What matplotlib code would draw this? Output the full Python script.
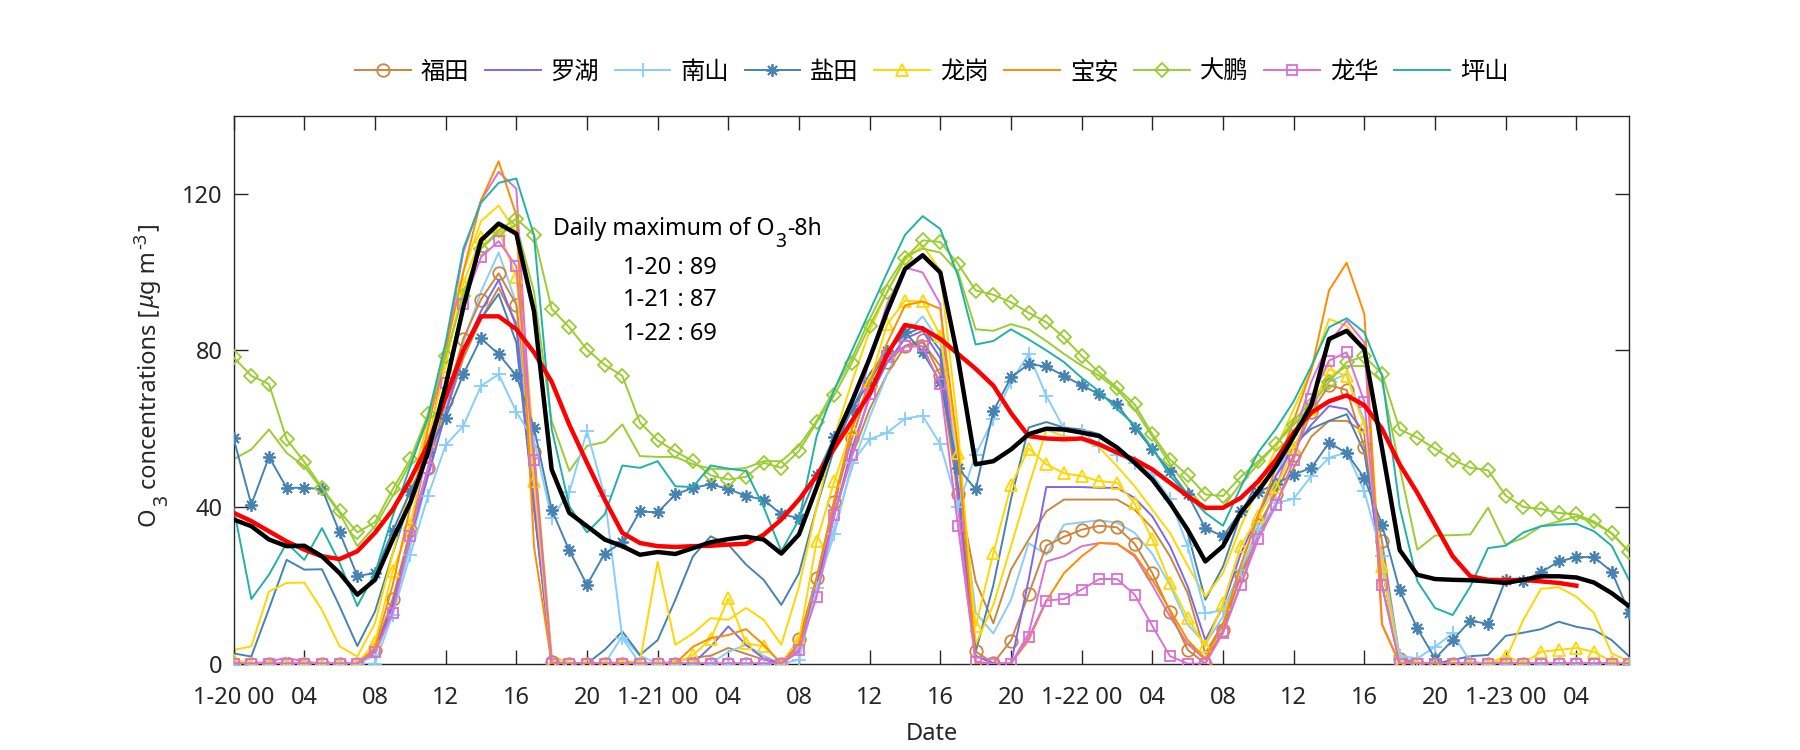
import numpy as np
import matplotlib
matplotlib.use("Agg")
import matplotlib.pyplot as plt
from matplotlib.transforms import IdentityTransform

plt.rcParams['font.family'] = ['Noto Sans', 'Noto Sans CJK SC', 'DejaVu Sans']

hours = np.arange(80)

stations = ['福田', '罗湖', '南山', '盐田', '龙岗', '宝安', '大鹏', '龙华', '坪山']
colors = ['#CD853F', '#7B68EE', '#87CEFA', '#4682B4', '#FFD700', '#FF8C00', '#9ACD32', '#DA70D6', '#20B2AA']
markers = ['o', None, '+', (8, 2, 0), '^', None, 'D', 's', None]

# ---- series with markers (set A) ----
futian_a = [0, 0, 0, 0, 0, 0, 0, 0, 3.5, 16.5,
            34, 50, 67, 83, 93, 99.7, 91.7, 54, 0.5, 0,
            0, 0, 0, 0, 0, 0, 0, 0, 0, 0,
            0, 0, 6.2, 21.9, 41.3, 57.5, 71.1, 77.1, 81.2, 82.7,
            73.6, 43.2, 3.1, 0.1, 5.9, 17.7, 30.1, 32.4, 34.2, 35.2,
            34.8, 30.6, 23.1, 13.3, 3.5, 0, 8.6, 22.7, 35.3, 43.4,
            53.2, 64.3, 71.1, 69.9, 55.2, 31.2, 1.3, 0, 0, 0,
            0, 0, 0, 0, 0, 0, 0, 0, 0, 0]
luohu_a = [0, 0, 0, 0, 0, 0, 0, 0, 3, 15,
           32, 48, 64, 80, 90, 98, 86, 40, 0, 0,
           0, 0, 0, 0, 0, 0, 0, 4.3, 9.5, 4.8,
           1.3, 0, 5, 20, 38, 55, 68, 77, 83, 85,
           78, 45, 2, 0, 0, 21.4, 45.1, 45.1, 45.1, 44.9,
           44.9, 42.3, 37.6, 30, 19.7, 6, 14.6, 28, 38, 48,
           55, 61, 65.8, 65, 59, 20, 0, 0, 0, 0,
           0, 0, 0, 0, 0, 0, 0, 0, 0, 0]
nanshan_a = [0, 0, 0, 0, 0, 0, 0, 0, 0, 12.5,
             27.8, 42.8, 55.8, 60.7, 70.9, 73.9, 64.3, 57, 37.2, 43.8,
             59.4, 42.8, 6.5, 0, 0, 0, 0, 0, 0, 0,
             0, 0, 1, 19.3, 33, 51.3, 57.3, 59, 62.6, 63.3,
             56, 40, 53.4, 62.4, 72, 79.1, 68.4, 60, 59.4, 55.6,
             53.4, 51.3, 48.3, 42, 30, 12.9, 13.6, 24, 34, 41,
             42.1, 47.9, 52.6, 53.9, 44, 27.4, 2, 1.3, 4.3, 7.7,
             0.5, 0, 0, 0, 0, 0, 0, 0, 0, 0]
yantian_a = [57.5, 40.6, 52.8, 44.9, 44.9, 44.6, 33.5, 22.4, 23.1, 33.8,
             44.0, 54.0, 62.8, 73.9, 83.1, 79.0, 73.6, 60.3, 39.3, 28.9,
             20.1, 28.1, 31.0, 38.9, 38.6, 43.2, 44.9, 45.8, 44.6, 42.8,
             41.9, 38.1, 37.2, 48.1, 57.9, 65.0, 72.0, 79.9, 84.7, 79.5,
             72.0, 50.0, 44.5, 64.5, 73.1, 76.5, 75.9, 73.5, 71.1, 68.8,
             66.2, 60.3, 54.7, 49.2, 43.2, 34.6, 32.5, 38.9, 43.8, 46.0,
             48.3, 50.0, 56.4, 53.8, 47.4, 35.5, 18.7, 9.0, 1.3, 6.0,
             11.0, 10.1, 21.4, 21.2, 23.3, 26.1, 27.2, 27.2, 23.5, 13.0]
longgang_a = [1, 0, 0, 0, 0, 0, 0, 0, 5.4, 23.6,
              35.5, 56.9, 76.1, 97, 109, 110.7, 98.7, 46.6, 0, 0,
              0, 0, 0, 0, 0, 0, 2.2, 6.2, 16.7, 5.2,
              4.4, 0, 6, 31.2, 46.6, 60, 72, 86.7, 92.7, 92.5,
              83.8, 53.9, 9.5, 28.2, 45.5, 54.9, 50.9, 48.6, 47.9, 46.6,
              46.2, 40.9, 31.7, 20.7, 11.6, 4.4, 15.4, 30.1, 37.6, 45,
              55, 65, 75.2, 73.5, 60.7, 25, 0, 0, 0, 0,
              0, 0, 2, 0, 3, 3.5, 4, 3, 0.5, 0]
baoan_a = [0, 0, 0, 0, 0, 0, 0, 0, 4, 20,
           40, 60, 80, 100, 118.3, 128.3, 114.5, 30, 0, 0,
           0, 0, 0, 0, 0, 0, 4.3, 6.5, 7.3, 8.8,
           4.8, 0, 5, 22, 42, 60, 72, 82, 91.5, 92.5,
           90.6, 55, 0, 0, 0, 6, 16, 23.1, 27.4, 30.8,
           30.6, 27.8, 21.4, 13.7, 6, 1.3, 10, 25, 38, 50,
           62, 75, 95.3, 102.4, 89.3, 10, 0, 0, 0, 0,
           0, 0, 0, 0, 0, 0, 0, 0, 0, 0]
dapeng_a = [78.2, 73.5, 71.4, 57.3, 51.5, 44.9, 38.9, 33.5, 36.1, 44.5,
            52.2, 63.7, 78.6, 94, 106, 110.7, 113.6, 109.6, 90.6, 85.9,
            80.2, 76.3, 73.5, 61.6, 57, 54.2, 51.7, 48.1, 47.0, 47.7,
            51.3, 50.0, 54.3, 61.6, 68.6, 76.9, 86.3, 95.0, 103.5, 108.1,
            107.7, 102.1, 95.3, 94.2, 92.3, 89.6, 87.2, 83.3, 78.6, 74.3,
            70.5, 66.2, 58.6, 52.1, 48.1, 43.2, 42.8, 47.7, 51.7, 56,
            61, 66, 72, 77, 78.5, 74, 59.8, 57.7, 54.9, 52.1,
            50.0, 49.4, 42.9, 40.0, 39.5, 38.5, 38.1, 36.3, 33.3, 28.4]
longhua_a = [0, 0, 0, 0, 0, 0, 0, 0, 3, 13,
             32.5, 50, 71.8, 91.9, 103.8, 107.9, 101.5, 52.1, 0, 0,
             0, 0, 0, 0, 0, 0, 0, 0, 0, 0,
             0, 0, 3.5, 17, 38, 53.4, 68.8, 78.2, 81, 81,
             71.4, 35.1, 0.5, 0, 0, 6.7, 16.1, 16.5, 18.9, 21.6,
             21.6, 17.6, 9.6, 1.9, 0, 0, 7.8, 20, 31.8, 40.4,
             52, 67.7, 77.4, 79.5, 66.9, 20, 0, 0, 0, 0,
             0, 0, 0, 0, 0, 0, 0, 0, 0, 0]
pingshan_a = [39.8, 16.5, 22.7, 30.8, 26.5, 34.6, 25.7, 14.7, 23.1, 37.6,
              50.4, 63, 82, 106, 117.7, 122.8, 123.9, 109.4, 60, 40.2,
              33.5, 38.1, 50.6, 50, 51.7, 45.3, 45.1, 50.6, 49.8, 49.2,
              40, 28.7, 36.8, 58.1, 70, 80, 90, 100, 109.5, 114.3,
              111, 99, 81.5, 82.4, 85.4, 82.8, 80, 77, 73, 69.5,
              65, 61, 55, 48, 43, 38.5, 35.2, 45, 54, 60,
              67, 76, 85.9, 88.2, 84.6, 73.5, 40, 21.0, 14.2, 12.4,
              19.7, 29.5, 30.1, 33.5, 35.1, 35.5, 35.7, 33.8, 30.1, 21.2]

# ---- plain lines (set B) ----
futian_b = [0, 0, 0, 0, 0, 0, 0, 0, 3, 15,
            32, 48, 64, 78, 88, 96, 87, 50, 0, 0,
            0, 0, 0, 0, 0, 0.5, 1.5, 2, 4, 2.5,
            1, 0, 5, 20, 38, 53, 65, 74, 81, 82,
            76, 45, 21, 10.3, 24, 31.7, 38.9, 41.9, 41.9, 41.9,
            41.9, 39.3, 34.6, 27.4, 18, 2.6, 10.3, 22, 33, 41,
            50, 58, 62, 62, 59, 25, 0, 0, 0, 0,
            0, 0, 0, 0, 0, 0, 0, 0, 0, 0]
nanshan_b = [0, 0, 0, 0, 0, 0, 0, 0, 2, 14,
             30, 48, 65, 82, 95, 105, 92, 45, 2, 0,
             0, 0, 7, 2, 0, 0, 0, 0, 3, 4.8,
             2, 0, 4, 18, 35, 50, 63, 74, 84, 88.7,
             82, 50, 13, 7.7, 16.3, 30.8, 27.8, 35.5, 36.1, 36.6,
             36, 33.4, 28, 20, 10, 5, 12, 25, 37, 48,
             58, 66, 72, 74, 62, 25, 2, 0, 0, 0,
             0, 0, 0, 0, 0, 0, 0, 0, 0, 0]
yantian_b = [2.6, 1.8, 14, 26.5, 24, 24.1, 14.6, 4.5, 13.3, 28,
             42, 56, 68, 80, 88, 94.4, 82, 40, 0, 0,
             0, 3.5, 8.2, 2.2, 6, 16.3, 27.4, 32.5, 30.4, 25.3,
             21.4, 15, 23.1, 40, 55, 65, 74, 80, 84, 86,
             80, 45, 3, 20, 42, 60.3, 61.7, 60.3, 59.8, 58.6,
             55.2, 51.7, 47.9, 41.9, 33.4, 16.3, 24.8, 38, 47, 52,
             56, 60, 62, 63.7, 53.9, 25, 0, 0, 0, 0.9,
             1.9, 2.2, 7.1, 7.9, 8.8, 10.7, 9.4, 8.6, 6.0, 1.8]
longgang_b = [3.5, 4.4, 18.4, 20.6, 20.7, 13.7, 4.4, 1.8, 10.3, 28,
              45, 62, 80, 100, 113, 117, 110, 55, 2, 0,
              0, 0, 0.5, 0.5, 26, 4.8, 7.7, 11.6, 11.2, 14.2,
              11.2, 4.8, 19.7, 40, 58, 72, 85, 95, 103, 106.8,
              100.4, 60, 5, 15, 30, 45.3, 59.7, 58.1, 57.3, 55.2,
              50.4, 45.3, 39.3, 33.4, 25, 17.1, 23.1, 35, 45, 55,
              65, 75, 88, 86.3, 80.3, 20, 0, 0, 0, 0,
              0, 0, 1, 11.2, 19.1, 19.5, 17.1, 12.9, 2.6, 0.5]
dapeng_b = [52.2, 54.7, 59.8, 53.8, 50.4, 44.5, 38.5, 30, 35.1, 42.8,
            51.3, 62.4, 78, 95, 106, 110, 112, 95, 62, 49.2,
            55.6, 56.6, 61.1, 53, 52.8, 52.8, 50.9, 49.8, 49.6, 50,
            51.7, 51.7, 55.6, 62, 70, 78, 88, 97, 104, 106,
            105, 100, 85.4, 85, 86.7, 85.4, 82.4, 79.1, 76.1, 73.5,
            70, 65, 58, 51, 45, 39.3, 40, 46, 51, 56,
            62, 67, 73, 76, 76, 72, 50, 29.1, 32.7, 32.8,
            33.0, 39.8, 30.4, 32.1, 35.1, 36.3, 37.6, 35.9, 33.3, 28.6]
longhua_b = [0, 0, 0.5, 1.5, 0.5, 0, 0, 0, 3, 15,
             34, 55, 80, 105, 118.3, 125.6, 121.3, 45, 0, 0,
             0, 0, 0, 0, 0, 0, 0, 0, 0, 0,
             0, 0, 3, 18, 40, 60, 78, 92, 101.2, 99.9,
             91.8, 40, 0, 0, 0, 7.7, 26.1, 27.4, 30, 30.8,
             30.6, 27.4, 20, 12, 5, 1, 8, 20, 33, 45,
             58, 72, 82, 87.6, 82, 10, 0, 0, 0, 0,
             0, 0, 0, 0, 0, 0, 0, 0, 0, 0]

# ---- thick summary lines ----
black_line = [36.8, 35.1, 31.7, 30.0, 30.1, 27.4, 23.1, 17.6, 21.4, 31.7,
              41.1, 54.0, 71.0, 91.0, 108.1, 112.4, 109.8, 90.0, 49.6, 38.5,
              35.1, 31.7, 30.0, 27.8, 28.5, 28.0, 29.5, 31.0, 31.8, 32.4,
              31.7, 28.1, 33.0, 45.0, 57.0, 67.0, 78.0, 90.0, 100.8, 104.3,
              99.9, 78.0, 50.9, 51.7, 54.7, 58.6, 60.0, 59.8, 59.0, 58.1,
              55.2, 51.3, 47.0, 41.0, 34.2, 26.1, 30.0, 38.5, 44.1, 50.4,
              58.0, 66.0, 82.9, 85.0, 80.3, 55.0, 29.0, 22.7, 21.6, 21.4,
              21.3, 21.0, 20.6, 21.4, 22.3, 22.3, 22.0, 20.7, 18.0, 14.6]
red_line = [38.5, 36.4, 33.8, 31.2, 29.1, 27.4, 26.7, 28.7, 33.4, 39.3,
            47.0, 56.0, 68.0, 80.0, 88.7, 88.7, 85.4, 79.5, 72.0, 61.0,
            51.3, 41.9, 33.4, 30.8, 30.0, 29.8, 30.0, 30.1, 30.4, 30.6,
            32.9, 36.8, 41.9, 48.0, 55.0, 62.0, 69.0, 79.0, 86.5, 85.6,
            82.9, 79.1, 75.3, 71.0, 64.0, 58.1, 57.5, 57.3, 57.5, 56.0,
            53.9, 52.1, 49.6, 46.2, 42.8, 39.8, 39.8, 42.3, 46.6, 52.1,
            59.0, 64.1, 67.0, 68.5, 66.0, 60.0, 50.9, 43.6, 35.5, 27.4,
            22.3, 21.4, 21.3, 21.4, 21.0, 20.6, 19.9, np.nan, np.nan, np.nan]

set_a = [futian_a, luohu_a, nanshan_a, yantian_a, longgang_a, baoan_a, dapeng_a, longhua_a, pingshan_a]
set_b = {0: futian_b, 2: nanshan_b, 3: yantian_b, 4: longgang_b, 6: dapeng_b, 7: longhua_b}

tick_pos = list(range(0, 80, 4))
tick_labels = ['1-20 00', '04', '08', '12', '16', '20',
               '1-21 00', '04', '08', '12', '16', '20',
               '1-22 00', '04', '08', '12', '16', '20',
               '1-23 00', '04']

annot_lines = ['1-20 : 89', '1-21 : 87', '1-22 : 69']

FS = 17
TXT = '#262626'

fig = plt.figure(figsize=(18, 7.5), dpi=100)
ax = fig.add_axes([0.1298, 0.1152, 0.7754, 0.7308])

lw = 1.4
for i, vals in set_b.items():
    ax.plot(hours, vals, color=colors[i], lw=lw, zorder=2)

handles = []
for i, vals in enumerate(set_a):
    m = markers[i]
    kw = dict(color=colors[i], lw=lw, zorder=3)
    if m is not None:
        ms = 9
        if m == 's':
            ms = 6.5
        elif m == 'D':
            ms = 7
        elif m == '+':
            ms = 10
        kw.update(marker=m, ms=ms, mfc='none', mec=colors[i], mew=1.3)
    h, = ax.plot(hours, vals, label=stations[i], **kw)
    handles.append(h)

ax.plot(hours, black_line, color='black', lw=3.2, zorder=5)
ax.plot(hours, red_line, color='#FF0000', lw=3.2, zorder=4)

ax.set_xlim(0, 79)
ax.set_ylim(0, 140)
ax.set_yticks([0, 40, 80, 120])
ax.set_xticks(tick_pos)
ax.set_xticklabels(tick_labels)
ax.tick_params(direction='in', length=10, width=1.0, top=True, right=True,
               labelsize=FS, colors=TXT)
ax.tick_params(axis='x', pad=16)
ax.tick_params(axis='y', pad=8)
for s in ax.spines.values():
    s.set_linewidth(1.0)
    s.set_color(TXT)

ax.set_xlabel('Date', fontsize=FS, color=TXT, labelpad=9)

fig.legend(handles=handles, loc='center', bbox_to_anchor=(0.5175, 0.903), ncol=9, frameon=False,
           fontsize=17.5, handlelength=2.3, handletextpad=0.4, columnspacing=0.65)

renderer = fig.canvas.get_renderer()


def rich_text(x, y, pieces, rotation=0, color='black', center=False):
    """Place text pieces one after another (pixel coordinates).
    pieces: (string, fontsize, shift_px, style, gap_px_after)"""
    objs = []
    pos = 0.0
    for s, fs, shift, style, gap in pieces:
        if rotation == 0:
            px, py = x + pos, y + shift
        else:
            px, py = x - shift, y + pos
        t = fig.text(px, py, s, transform=IdentityTransform(), fontsize=fs, fontstyle=style,
                     ha='left', va='baseline', rotation=rotation, rotation_mode='anchor', color=color)
        bb = t.get_window_extent(renderer)
        pos += (bb.width if rotation == 0 else bb.height) + gap
        objs.append(t)
    if center:
        for t in objs:
            px, py = t.get_position()
            if rotation == 0:
                t.set_position((px - pos / 2, py))
            else:
                t.set_position((px, py - pos / 2))
    return objs


# annotation (data anchored)
tx, ty = ax.transData.transform((18.08, 109.5))
rich_text(tx, ty, [('Daily maximum of O', 16.6, 0, 'normal', 1),
                   ('3', 14, -12, 'normal', 1),
                   ('-8h', 16.6, 0, 'normal', 0)])
for k, t in enumerate(annot_lines):
    ax.text(22.02, [99.5, 91.3, 82.7][k], t, fontsize=FS, ha='left', va='baseline', color='black')

# y label
rich_text(155, 375.5, [('O', FS, 0, 'normal', 1),
                       ('3', 14, -12, 'normal', 6),
                       ('concentrations [', FS, 0, 'normal', 2),
                       ('\u03bc', FS, 0, 'italic', 0),
                       ('g m', FS, 0, 'normal', 2),
                       ('-3', 13, 9, 'normal', 2),
                       (']', FS, 0, 'normal', 0)],
          rotation=90, color=TXT, center=True)

fig.savefig('out.png', dpi=100)
